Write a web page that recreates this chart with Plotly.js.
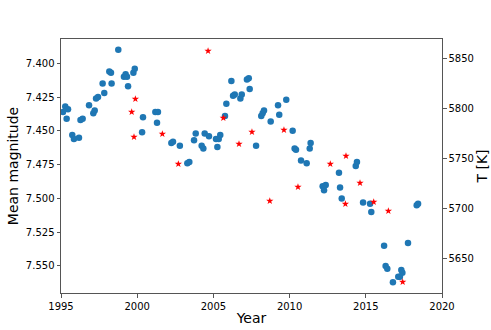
<!DOCTYPE html>
<html>
<head>
<meta charset="utf-8">
<script src="https://cdn.plot.ly/plotly-3.0.1.min.js"></script>
<style>
  html, body { margin: 0; padding: 0; background: #fff; }
  #chart { width: 491px; height: 330px; }
</style>
</head>
<body>
<div id="chart"></div>
<script>
// Mean magnitude per epoch (blue dots, left axis)
const magYears = [
  1995.13, 1995.28, 1995.37, 1995.46, 1995.74, 1995.85, 1996.18, 1996.28, 1996.42, 1996.84,
  1997.12, 1997.21, 1997.30, 1997.43, 1997.73, 1997.84, 1998.17, 1998.28, 1998.32, 1998.76,
  1999.13, 1999.24, 1999.33, 1999.40, 1999.75, 1999.84, 2000.32, 2000.38, 2001.19, 2001.30,
  2001.36, 2002.24, 2002.35, 2002.80, 2003.29, 2003.42, 2003.73, 2003.84, 2004.23, 2004.34,
  2004.43, 2004.71, 2005.17, 2005.26, 2005.35, 2005.45, 2005.76, 2005.85, 2006.18, 2006.29,
  2006.40, 2006.77, 2006.86, 2007.20, 2007.32, 2007.38, 2007.80, 2008.14, 2008.23, 2008.32,
  2008.76, 2009.24, 2009.32, 2009.78, 2010.20, 2010.33, 2010.42, 2010.75, 2011.12, 2011.32,
  2011.38, 2012.17, 2012.26, 2012.37, 2013.24, 2013.31, 2013.42, 2014.34, 2014.42, 2014.82,
  2015.28, 2015.36, 2016.20, 2016.30, 2016.41, 2016.78, 2017.13, 2017.24, 2017.33, 2017.40,
  2017.77, 2018.34, 2018.43
];
const magValues = [
  7.436, 7.432, 7.441, 7.434, 7.453, 7.456, 7.455, 7.442, 7.441, 7.431,
  7.437, 7.435, 7.426, 7.425, 7.415, 7.422, 7.406, 7.407, 7.415, 7.390,
  7.410, 7.408, 7.410, 7.417, 7.407, 7.404, 7.451, 7.440, 7.436, 7.444,
  7.436, 7.459, 7.458, 7.461, 7.474, 7.473, 7.457, 7.452, 7.461, 7.463,
  7.452, 7.454, 7.456, 7.462, 7.456, 7.453, 7.439, 7.430, 7.413, 7.424,
  7.423, 7.426, 7.423, 7.412, 7.411, 7.419, 7.461, 7.439, 7.437, 7.435,
  7.443, 7.431, 7.438, 7.427, 7.450, 7.463, 7.464, 7.472, 7.474, 7.463,
  7.459, 7.491, 7.494, 7.490, 7.481, 7.492, 7.500, 7.476, 7.473, 7.503,
  7.504, 7.510, 7.535, 7.550, 7.552, 7.562, 7.558, 7.558, 7.553, 7.555,
  7.533, 7.505, 7.504
];

// Temperature estimates (red stars, right axis)
const tempYears = [
  1999.64, 1999.79, 1999.88, 2001.65, 2002.70, 2004.65, 2005.65, 2006.68, 2007.53, 2008.70,
  2009.63, 2010.55, 2012.67, 2013.66, 2013.70, 2014.62, 2015.52, 2016.48, 2017.42
];
const tempValues = [
  5796, 5771, 5809, 5774, 5744, 5857, 5790, 5764, 5776, 5707,
  5778, 5721, 5744, 5704, 5752, 5725, 5706, 5697, 5626
];

const yearTicks = [1995, 2000, 2005, 2010, 2015, 2020];
const magTicks = [7.400, 7.425, 7.450, 7.475, 7.500, 7.525, 7.550];
const tempTicks = [5650, 5700, 5750, 5800, 5850];

const frame = '#555';

const magTrace = {
  x: magYears,
  y: magValues,
  type: 'scatter',
  mode: 'markers',
  marker: { color: '#1f77b4', size: 6.5 },
  yaxis: 'y',
  hoverinfo: 'x+y'
};

const tempTrace = {
  x: tempYears,
  y: tempValues,
  type: 'scatter',
  mode: 'markers',
  marker: { color: '#ff0000', size: 5.5, symbol: 'star' },
  yaxis: 'y2',
  hoverinfo: 'x+y'
};

const layout = {
  width: 491,
  height: 330,
  margin: { l: 61, r: 49, t: 39, b: 37 },
  paper_bgcolor: '#fff',
  plot_bgcolor: '#fff',
  showlegend: false,
  font: { family: 'DejaVu Sans', size: 10, color: '#000' },
  xaxis: {
    range: [1995, 2020],
    tickvals: yearTicks,
    ticktext: yearTicks.map(String),
    ticks: 'outside',
    ticklen: 3.5,
    tickcolor: frame,
    showline: true,
    linecolor: frame,
    linewidth: 1,
    mirror: true,
    showgrid: false,
    zeroline: false,
    title: { text: 'Year', font: { size: 14 }, standoff: 2 }
  },
  yaxis: {
    range: [7.570, 7.382],
    tickvals: magTicks,
    ticktext: magTicks.map(v => v.toFixed(3)),
    ticks: 'outside',
    ticklen: 3.5,
    tickcolor: frame,
    showline: true,
    linecolor: frame,
    linewidth: 1,
    mirror: true,
    showgrid: false,
    zeroline: false,
    title: { text: 'Mean magnitude', font: { size: 14 }, standoff: 3 }
  },
  yaxis2: {
    overlaying: 'y',
    side: 'right',
    range: [5615, 5869],
    tickvals: tempTicks,
    ticktext: tempTicks.map(String),
    ticks: 'outside',
    ticklen: 3.5,
    tickcolor: frame,
    showline: true,
    linecolor: frame,
    linewidth: 1,
    showgrid: false,
    zeroline: false,
    title: { text: 'T [K]', font: { size: 14 }, standoff: 2 }
  }
};

Plotly.newPlot('chart', [magTrace, tempTrace], layout, { displayModeBar: false, staticPlot: true });
</script>
</body>
</html>
